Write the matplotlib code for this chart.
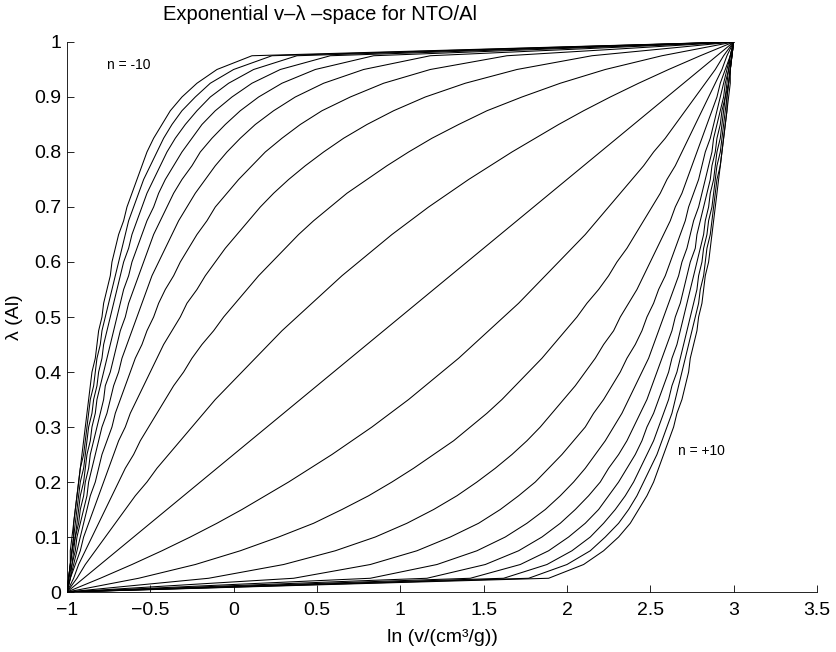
import matplotlib
matplotlib.use("Agg")
import matplotlib.pyplot as plt

plt.rcParams['font.family'] = ['Liberation Sans', 'DejaVu Sans']

# sampled lambda values (shared by every curve)
lam = [0.000, 0.025, 0.050, 0.075, 0.100, 0.125, 0.150, 0.175, 0.200, 0.225,
       0.250, 0.275, 0.300, 0.325, 0.350, 0.375, 0.400, 0.425, 0.450, 0.475,
       0.500, 0.525, 0.550, 0.575, 0.600, 0.625, 0.650, 0.675, 0.700, 0.725,
       0.750, 0.775, 0.800, 0.825, 0.850, 0.875, 0.900, 0.925, 0.950, 0.975, 1.000]

# ln(v) position of each curve at those lambda values, n = -10 ... +10
x_m10 = [-1.00, -0.99, -0.98, -0.98, -0.97, -0.96, -0.95, -0.94, -0.93, -0.92, -0.91, -0.90, -0.89, -0.88,
         -0.87, -0.86, -0.85, -0.83, -0.82, -0.81, -0.79, -0.78, -0.76, -0.74, -0.73, -0.71, -0.69, -0.66,
         -0.64, -0.61, -0.58, -0.55, -0.52, -0.48, -0.43, -0.38, -0.31, -0.22, -0.10, 0.11, 3.00]
x_m9 = [-1.00, -0.99, -0.98, -0.97, -0.96, -0.96, -0.95, -0.94, -0.93, -0.92, -0.90, -0.89, -0.88, -0.87,
        -0.86, -0.84, -0.83, -0.82, -0.80, -0.79, -0.77, -0.75, -0.73, -0.71, -0.69, -0.67, -0.65, -0.63,
        -0.60, -0.57, -0.54, -0.50, -0.46, -0.42, -0.37, -0.31, -0.23, -0.14, 0.00, 0.23, 3.00]
x_m8 = [-1.00, -0.99, -0.98, -0.97, -0.96, -0.95, -0.94, -0.93, -0.92, -0.90, -0.89, -0.88, -0.87, -0.85,
        -0.84, -0.82, -0.81, -0.79, -0.78, -0.76, -0.74, -0.72, -0.70, -0.68, -0.66, -0.63, -0.61, -0.58,
        -0.55, -0.52, -0.48, -0.44, -0.40, -0.35, -0.29, -0.22, -0.14, -0.03, 0.12, 0.38, 3.00]
x_m7 = [-1.00, -0.99, -0.98, -0.97, -0.95, -0.94, -0.93, -0.92, -0.90, -0.89, -0.88, -0.86, -0.85, -0.83,
        -0.82, -0.80, -0.78, -0.76, -0.74, -0.72, -0.70, -0.68, -0.66, -0.63, -0.61, -0.58, -0.55, -0.52,
        -0.48, -0.45, -0.41, -0.36, -0.31, -0.25, -0.19, -0.11, -0.01, 0.11, 0.28, 0.58, 3.00]
x_m6 = [-1.00, -0.99, -0.97, -0.96, -0.95, -0.93, -0.92, -0.90, -0.89, -0.87, -0.86, -0.84, -0.82, -0.80,
        -0.78, -0.77, -0.74, -0.72, -0.70, -0.68, -0.65, -0.63, -0.60, -0.57, -0.54, -0.51, -0.48, -0.44,
        -0.40, -0.36, -0.31, -0.25, -0.20, -0.13, -0.05, 0.04, 0.15, 0.29, 0.49, 0.84, 3.00]
x_m5 = [-1.00, -0.98, -0.97, -0.95, -0.94, -0.92, -0.90, -0.88, -0.87, -0.85, -0.83, -0.81, -0.79, -0.76,
        -0.74, -0.72, -0.69, -0.67, -0.64, -0.61, -0.58, -0.55, -0.52, -0.49, -0.45, -0.41, -0.37, -0.33,
        -0.28, -0.23, -0.17, -0.11, -0.04, 0.04, 0.13, 0.24, 0.37, 0.54, 0.78, 1.18, 3.00]
x_m4 = [-1.00, -0.98, -0.96, -0.94, -0.92, -0.90, -0.88, -0.86, -0.83, -0.81, -0.79, -0.76, -0.73, -0.71,
        -0.68, -0.65, -0.62, -0.59, -0.55, -0.52, -0.48, -0.45, -0.41, -0.36, -0.32, -0.27, -0.22, -0.16,
        -0.11, -0.04, 0.03, 0.11, 0.19, 0.29, 0.40, 0.53, 0.70, 0.90, 1.18, 1.64, 3.00]
x_m3 = [-1.00, -0.98, -0.95, -0.92, -0.90, -0.87, -0.84, -0.81, -0.78, -0.75, -0.72, -0.69, -0.65, -0.62,
        -0.58, -0.54, -0.50, -0.46, -0.42, -0.37, -0.32, -0.28, -0.22, -0.17, -0.11, -0.05, 0.02, 0.09,
        0.16, 0.24, 0.33, 0.43, 0.54, 0.66, 0.80, 0.96, 1.15, 1.39, 1.70, 2.15, 3.00]
x_m2 = [-1.00, -0.96, -0.93, -0.89, -0.85, -0.81, -0.77, -0.73, -0.69, -0.65, -0.60, -0.56, -0.51, -0.46,
        -0.41, -0.36, -0.30, -0.25, -0.19, -0.12, -0.06, 0.01, 0.08, 0.15, 0.23, 0.31, 0.39, 0.48,
        0.58, 0.68, 0.80, 0.92, 1.05, 1.19, 1.35, 1.52, 1.73, 1.96, 2.23, 2.57, 3.00]
x_m1 = [-1.00, -0.94, -0.89, -0.83, -0.77, -0.71, -0.65, -0.59, -0.52, -0.46, -0.39, -0.32, -0.25, -0.18,
        -0.11, -0.03, 0.05, 0.13, 0.21, 0.29, 0.38, 0.47, 0.56, 0.65, 0.75, 0.85, 0.95, 1.06,
        1.17, 1.29, 1.41, 1.54, 1.67, 1.81, 1.95, 2.10, 2.26, 2.43, 2.61, 2.80, 3.00]
x_0 = [-1.0, -0.9, -0.8, -0.7, -0.6, -0.5, -0.4, -0.3, -0.2, -0.1, 0.0, 0.1, 0.2, 0.3,
       0.4, 0.5, 0.6, 0.7, 0.8, 0.9, 1.0, 1.1, 1.2, 1.3, 1.4, 1.5, 1.6, 1.7,
       1.8, 1.9, 2.0, 2.1, 2.2, 2.3, 2.4, 2.5, 2.6, 2.7, 2.8, 2.9, 3.0]
x_p1 = [-1.00, -0.80, -0.61, -0.43, -0.26, -0.10, 0.05, 0.19, 0.33, 0.46, 0.59, 0.71, 0.83, 0.94,
        1.05, 1.15, 1.25, 1.35, 1.44, 1.53, 1.62, 1.71, 1.79, 1.87, 1.95, 2.03, 2.11, 2.18,
        2.25, 2.32, 2.39, 2.46, 2.52, 2.59, 2.65, 2.71, 2.77, 2.83, 2.89, 2.94, 3.00]
x_p2 = [-1.00, -0.57, -0.23, 0.04, 0.27, 0.48, 0.65, 0.81, 0.95, 1.08, 1.20, 1.32, 1.42, 1.52,
        1.61, 1.69, 1.77, 1.85, 1.92, 1.99, 2.06, 2.12, 2.19, 2.25, 2.30, 2.36, 2.41, 2.46,
        2.51, 2.56, 2.60, 2.65, 2.69, 2.73, 2.77, 2.81, 2.85, 2.89, 2.93, 2.96, 3.00]
x_p3 = [-1.00, -0.15, 0.30, 0.61, 0.85, 1.04, 1.20, 1.34, 1.46, 1.57, 1.67, 1.76, 1.84, 1.91,
        1.98, 2.05, 2.11, 2.17, 2.22, 2.28, 2.32, 2.37, 2.42, 2.46, 2.50, 2.54, 2.58, 2.62,
        2.65, 2.69, 2.72, 2.75, 2.78, 2.81, 2.84, 2.87, 2.90, 2.92, 2.95, 2.98, 3.00]
x_p4 = [-1.00, 0.36, 0.82, 1.10, 1.30, 1.47, 1.60, 1.71, 1.81, 1.89, 1.97, 2.04, 2.11, 2.16,
        2.22, 2.27, 2.32, 2.36, 2.41, 2.45, 2.48, 2.52, 2.55, 2.59, 2.62, 2.65, 2.68, 2.71,
        2.73, 2.76, 2.79, 2.81, 2.83, 2.86, 2.88, 2.90, 2.92, 2.94, 2.96, 2.98, 3.00]
x_p5 = [-1.00, 0.82, 1.22, 1.46, 1.63, 1.76, 1.87, 1.96, 2.04, 2.11, 2.17, 2.23, 2.28, 2.33,
        2.37, 2.41, 2.45, 2.49, 2.52, 2.55, 2.58, 2.61, 2.64, 2.67, 2.69, 2.72, 2.74, 2.76,
        2.79, 2.81, 2.83, 2.85, 2.87, 2.88, 2.90, 2.92, 2.94, 2.95, 2.97, 2.98, 3.00]
x_p6 = [-1.00, 1.16, 1.51, 1.71, 1.85, 1.96, 2.05, 2.13, 2.20, 2.25, 2.31, 2.36, 2.40, 2.44,
        2.48, 2.51, 2.54, 2.57, 2.60, 2.63, 2.65, 2.68, 2.70, 2.72, 2.74, 2.77, 2.78, 2.80,
        2.82, 2.84, 2.86, 2.87, 2.89, 2.90, 2.92, 2.93, 2.95, 2.96, 2.97, 2.99, 3.00]
x_p7 = [-1.00, 1.42, 1.72, 1.89, 2.01, 2.11, 2.19, 2.25, 2.31, 2.36, 2.41, 2.45, 2.48, 2.52,
        2.55, 2.58, 2.61, 2.63, 2.66, 2.68, 2.70, 2.72, 2.74, 2.76, 2.78, 2.80, 2.82, 2.83,
        2.85, 2.86, 2.88, 2.89, 2.90, 2.92, 2.93, 2.94, 2.95, 2.97, 2.98, 2.99, 3.00]
x_p8 = [-1.00, 1.62, 1.88, 2.03, 2.14, 2.22, 2.29, 2.35, 2.40, 2.44, 2.48, 2.52, 2.55, 2.58,
        2.61, 2.63, 2.66, 2.68, 2.70, 2.72, 2.74, 2.76, 2.78, 2.79, 2.81, 2.82, 2.84, 2.85,
        2.87, 2.88, 2.89, 2.90, 2.92, 2.93, 2.94, 2.95, 2.96, 2.97, 2.98, 2.99, 3.00]
x_p9 = [-1.00, 1.77, 2.00, 2.14, 2.23, 2.31, 2.37, 2.42, 2.46, 2.50, 2.54, 2.57, 2.60, 2.63,
        2.65, 2.67, 2.69, 2.71, 2.73, 2.75, 2.77, 2.79, 2.80, 2.82, 2.83, 2.84, 2.86, 2.87,
        2.88, 2.89, 2.90, 2.92, 2.93, 2.94, 2.95, 2.96, 2.96, 2.97, 2.98, 2.99, 3.00]
x_p10 = [-1.00, 1.89, 2.10, 2.22, 2.31, 2.38, 2.43, 2.48, 2.52, 2.55, 2.58, 2.61, 2.64, 2.66,
         2.69, 2.71, 2.73, 2.74, 2.76, 2.78, 2.79, 2.81, 2.82, 2.83, 2.85, 2.86, 2.87, 2.88,
         2.89, 2.90, 2.91, 2.92, 2.93, 2.94, 2.95, 2.96, 2.97, 2.98, 2.98, 2.99, 3.00]

curves = [x_m10, x_m9, x_m8, x_m7, x_m6, x_m5, x_m4, x_m3, x_m2, x_m1, x_0,
          x_p1, x_p2, x_p3, x_p4, x_p5, x_p6, x_p7, x_p8, x_p9, x_p10]

xticks = [-1, -0.5, 0, 0.5, 1, 1.5, 2, 2.5, 3, 3.5]
xticklabels = ['\u22121', '\u22120.5', '0', '0.5', '1', '1.5', '2', '2.5', '3', '3.5']
yticks = [0, 0.1, 0.2, 0.3, 0.4, 0.5, 0.6, 0.7, 0.8, 0.9, 1]
yticklabels = ['0', '0.1', '0.2', '0.3', '0.4', '0.5', '0.6', '0.7', '0.8', '0.9', '1']

fig = plt.figure(figsize=(8.36, 6.52), dpi=100)
ax = fig.add_axes([0.0801, 0.0920, 0.8971, 0.8436])

for xs in curves:
    ax.plot(xs, lam, color='black', linewidth=0.75, solid_joinstyle='miter')

ax.set_xlim(-1, 3.5)
ax.set_ylim(0, 1)
ax.set_xticks(xticks)
ax.set_xticklabels(xticklabels)
ax.set_yticks(yticks)
ax.set_yticklabels(yticklabels)

ax.spines['top'].set_visible(False)
ax.spines['right'].set_visible(False)
for s in ('left', 'bottom'):
    ax.spines[s].set_linewidth(0.6)
ax.tick_params(direction='in', length=5, width=0.6, labelsize=14)
ax.tick_params(axis='x', pad=7)
ax.tick_params(axis='y', pad=4)

ax.text(-0.762, 0.958, 'n = -10', fontsize=10, va='center', ha='left')
ax.text(2.667, 0.256, 'n = +10', fontsize=10, va='center', ha='left')

ax.set_xlabel('ln (v/(cm\u00b3/g))', fontsize=14)
ax.set_ylabel('\u03bb (Al)', fontsize=14)
ax.xaxis.set_label_coords(0.5, -0.068)
ax.yaxis.set_label_coords(-0.058, 0.5)

fig.text(0.383, 0.977, 'Exponential v\u2013\u03bb \u2013space for NTO/Al', fontsize=14.5,
         ha='center', va='center')

fig.savefig('out.png', dpi=100)
